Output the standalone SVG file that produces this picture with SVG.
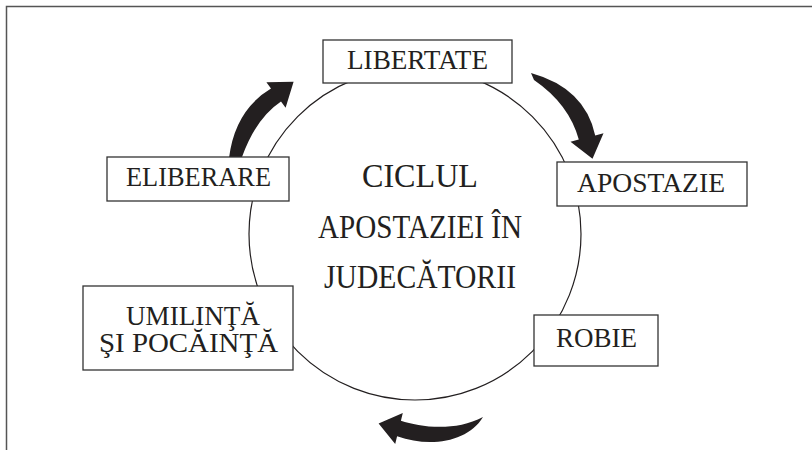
<svg xmlns="http://www.w3.org/2000/svg" width="812" height="450" viewBox="0 0 812 450">
  <style>
    .frame { fill: none; stroke: #555; stroke-width: 1.5; }
    .ring { fill: none; stroke: #231f20; stroke-width: 1.2; }
    .box { fill: #fff; stroke: #333; stroke-width: 1.3; }
    .lbl { font-family: "Liberation Serif", "Times New Roman", serif; font-size: 27px; fill: #231f20; text-anchor: middle; }
    .title { font-family: "Liberation Serif", "Times New Roman", serif; font-size: 33px; fill: #231f20; text-anchor: middle; }
    .arrow { fill: #231f20; stroke: none; }
  </style>
  <rect width="812" height="450" fill="#fff"/>
  <rect class="frame" x="6.5" y="6.5" width="820" height="460"/>

  <g id="cycle">
    <circle class="ring" cx="415" cy="234" r="166"/>
  </g>

  <g id="connectors">
    <path class="arrow" d="M229,158 Q235,110 271,88.6 L266.4,82.2 L293.6,81.8 L285.6,107.8 L281,101.4 Q256,118 242,157 Z"/>
    <path class="arrow" d="M531,73 Q585,88 595.2,135.4 L603.5,133.3 L592.5,158.8 L570.5,141.7 L578.8,139.6 Q569,104 534,80 Z"/>
    <path class="arrow" d="M483,417 C455,432 420,427 400.9,420.7 L402.8,413 L378.6,423.5 L395.2,444 L397.1,436.3 C430,448 468,442 483,417 Z"/>
  </g>

  <g id="node-center">
    <text class="title" x="420" y="187" textLength="116" lengthAdjust="spacingAndGlyphs">CICLUL</text>
    <text class="title" x="420" y="238" textLength="204" lengthAdjust="spacingAndGlyphs">APOSTAZIEI ÎN</text>
    <text class="title" x="420" y="288" textLength="192" lengthAdjust="spacingAndGlyphs">JUDECĂTORII</text>
  </g>

  <g id="node-libertate">
    <rect class="box" x="323" y="40" width="189" height="43"/>
    <text class="lbl" x="417.5" y="69" textLength="141" lengthAdjust="spacingAndGlyphs">LIBERTATE</text>
  </g>

  <g id="node-apostazie">
    <rect class="box" x="557" y="162" width="190" height="44"/>
    <text class="lbl" x="651" y="192" textLength="148" lengthAdjust="spacingAndGlyphs">APOSTAZIE</text>
  </g>

  <g id="node-robie">
    <rect class="box" x="534" y="315" width="124" height="51"/>
    <text class="lbl" x="596.5" y="347" textLength="81" lengthAdjust="spacingAndGlyphs">ROBIE</text>
  </g>

  <g id="node-umilinta">
    <rect class="box" x="83" y="286" width="210" height="84"/>
    <text class="lbl" x="193" y="325" textLength="134" lengthAdjust="spacingAndGlyphs">UMILINŢĂ</text>
    <text class="lbl" x="188.5" y="352" textLength="179" lengthAdjust="spacingAndGlyphs">ŞI POCĂINŢĂ</text>
  </g>

  <g id="node-eliberare">
    <rect class="box" x="107" y="157" width="182" height="44"/>
    <text class="lbl" x="198.5" y="186" textLength="145" lengthAdjust="spacingAndGlyphs">ELIBERARE</text>
  </g>
</svg>
